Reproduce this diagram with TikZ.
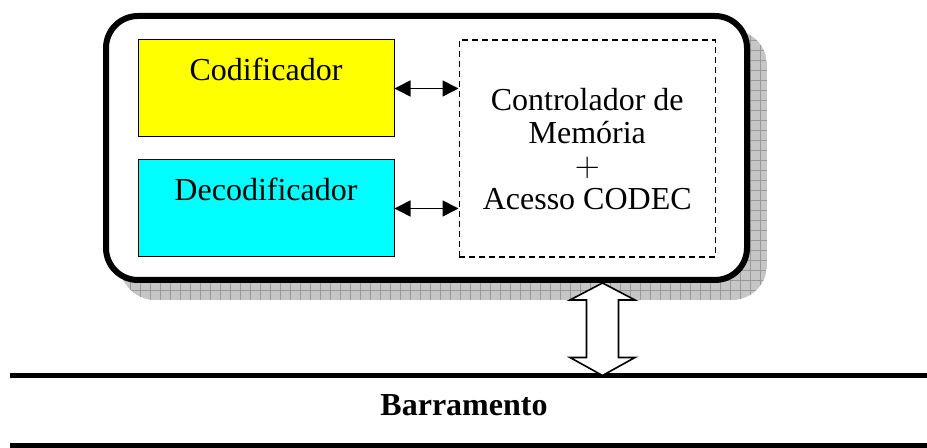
\documentclass[tikz,border=0pt]{standalone}
\usepackage{fontspec}
\setmainfont{Liberation Serif}
\usetikzlibrary{positioning, calc, arrows.meta}
\definecolor{amarelo}{RGB}{255,255,0}
\definecolor{ciano}{RGB}{0,255,255}

\begin{document}
\begin{tikzpicture}[x=0.5pt, y=-0.5pt, font=\fontsize{16}{16.5}\selectfont,
  bloco/.style={draw, line width=0.5pt, minimum width=128pt, inner sep=0pt, text height=20.5pt, text depth=28pt},
  liga/.style={{Triangle[length=8pt,width=8pt]}-{Triangle[length=8pt,width=8pt]}, line width=0.8pt},
  barra/.style={line width=2.5pt}]

  \useasboundingbox (0,0) rectangle (927,448);

  % sombra quadriculada
  \begin{scope}
    \clip[rounded corners=17.5pt] (120,30) rectangle (767,300);
    \fill[gray!45] (120,30) rectangle (767,300);
    \draw[gray!80, line width=0.4pt, step=5pt] (120,30) grid (767,300);
  \end{scope}

  \node[draw, fill=white, line width=3pt, rounded corners=16pt, minimum width=320.5pt, minimum height=132pt] (modulo) at (426.5,148) {};

  \node[bloco, fill=amarelo] (cod) at (266,88.5) {Codificador};
  \node[bloco, fill=ciano, below=11pt of cod] (dec) {Decodificador};
  \node[draw, dash pattern=on 3pt off 2pt, line width=0.75pt, minimum width=128pt, minimum height=108.5pt, align=center, right=32pt of cod.north east, anchor=north west] (ctrl) {Controlador de\\Memória\\$+$\\Acesso CODEC};

  \draw[liga] (cod.east) -- (cod.east -| ctrl.west);
  \draw[liga] (dec.east) -- (dec.east -| ctrl.west);

  % barramento
  \coordinate (b1) at (10,375.5);
  \coordinate (b2) at (927,375.5);
  \coordinate (b3) at (10,446);
  \coordinate (b4) at (927,446);
  \draw[barra] (b1) -- (b2);
  \draw[barra] (b3) -- (b4);
  \node[font=\fontsize{16}{16.5}\selectfont\bfseries] (bus) at (464,405) {Barramento};

  % seta dupla entre modulo e barramento
  \coordinate (topo) at (602.5,0 |- modulo.south);
  \coordinate (base) at (topo |- b1);
  \draw[line width=0.8pt, fill=white] (topo) -- ++(32.5,17) -- ++(-16.5,0) -- ($(base)+(16,-18)$) -- ++(16.5,0) -- (base)
    -- ++(-32.5,-18) -- ++(16.5,0) -- ($(topo)+(-16,17)$) -- ++(-16.5,0) -- cycle;

\end{tikzpicture}
\end{document}
